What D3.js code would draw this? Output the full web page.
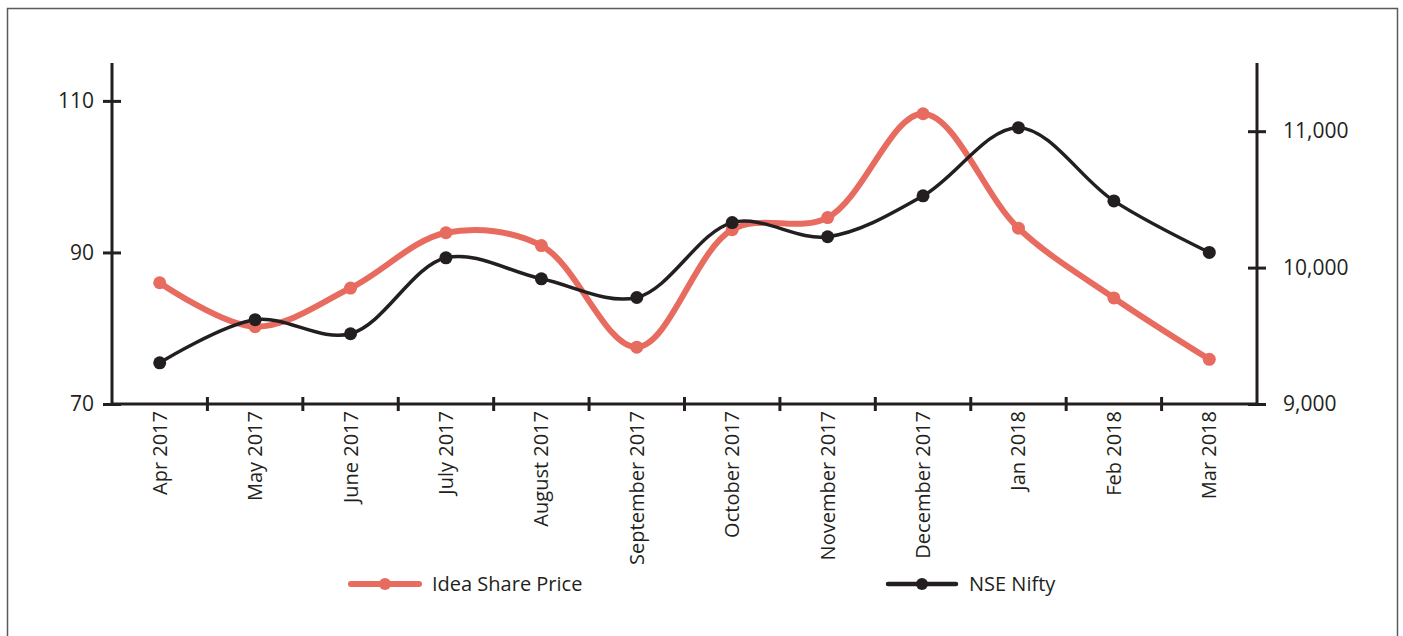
<!DOCTYPE html>
<html>
<head>
<meta charset="utf-8">
<script src="https://cdn.jsdelivr.net/npm/d3@7"></script>
<style>
  html, body { margin: 0; padding: 0; background: #fff; }
  svg { display: block; }
  text { font-family: "Open Sans", "Noto Sans", sans-serif; fill: #231f20; }
</style>
</head>
<body>
<svg id="chart" width="1403" height="636"></svg>
<script>
const categories = ["Apr 2017","May 2017","June 2017","July 2017","August 2017","September 2017","October 2017","November 2017","December 2017","Jan 2018","Feb 2018","Mar 2018"];
const ideaPrice = [86.0, 80.2, 85.3, 92.6, 90.9, 77.5, 93.0, 94.6, 108.3, 93.2, 84.0, 75.9];
const nifty = [9302, 9618, 9515, 10072, 9918, 9781, 10330, 10226, 10526, 11026, 10489, 10111];
const leftTicks = [70, 90, 110];
const rightTicks = [9000, 10000, 11000];
const seriesNames = ["Idea Share Price", "NSE Nifty"];

const ink = "#231f20";
const red = "#e86b60";
const svg = d3.select("#chart");

// outer frame
svg.append("rect").attr("x", 7.5).attr("y", 8.5).attr("width", 1390).attr("height", 640)
  .attr("fill", "none").attr("stroke", "#5a5a5a").attr("stroke-width", 1.5);

const x = d3.scaleBand().domain(categories).range([112, 1257]);
const yL = d3.scaleLinear().domain([70, 115]).range([404, 63]);
const yR = d3.scaleLinear().domain([9000, 11500]).range([404, 63]);
const cx = d => x(d) + x.bandwidth() / 2;

// left axis
const gL = svg.append("g").attr("transform", "translate(112,0)")
  .call(d3.axisLeft(yL).tickValues(leftTicks).tickSize(9).tickPadding(9).tickFormat(d3.format("d")));
gL.select(".domain").attr("stroke", ink).attr("stroke-width", 3).attr("d", `M0,${yL(115)}V${yL(70)}`);
gL.selectAll(".tick line").attr("stroke", ink).attr("stroke-width", 3).attr("x1", 9);
gL.selectAll(".tick text").attr("font-size", 21).style("fill", ink);

// right axis
const gR = svg.append("g").attr("transform", "translate(1257,0)")
  .call(d3.axisRight(yR).tickValues(rightTicks).tickSize(9).tickPadding(17).tickFormat(d3.format(",")));
gR.select(".domain").attr("stroke", ink).attr("stroke-width", 3).attr("d", `M0,${yR(11500)}V${yR(9000)}`);
gR.selectAll(".tick line").attr("stroke", ink).attr("stroke-width", 3).attr("x1", -9);
gR.selectAll(".tick text").attr("font-size", 21).style("fill", ink);

// x axis
const gX = svg.append("g").attr("transform", `translate(0,${yL(70)})`)
  .call(d3.axisBottom(x).tickSize(0).tickPadding(0));
gX.select(".domain").attr("stroke", ink).attr("stroke-width", 3).attr("d", `M${x.range()[0]},0H${x.range()[1]}`);
gX.selectAll(".tick text")
  .attr("font-size", 20).style("fill", ink)
  .attr("transform", "rotate(-90)")
  .attr("text-anchor", "end").attr("x", -7).attr("y", 0).attr("dy", "0.35em");
// boundary ticks
const bounds = d3.range(categories.length + 1).map(i => x.range()[0] + i * x.step());
gX.selectAll(".btick").data(bounds.slice(1, -1)).enter().append("line")
  .attr("x1", d => d).attr("x2", d => d).attr("y1", -7).attr("y2", 7)
  .attr("stroke", ink).attr("stroke-width", 3);

const curve = d3.curveCatmullRom.alpha(0.5);
const lineL = d3.line().x((d, i) => cx(categories[i])).y(d => yL(d)).curve(curve);
const lineR = d3.line().x((d, i) => cx(categories[i])).y(d => yR(d)).curve(curve);

svg.append("path").datum(ideaPrice).attr("d", lineL).attr("fill", "none")
  .attr("stroke", red).attr("stroke-width", 6).attr("stroke-linecap", "round");
svg.selectAll(".pI").data(ideaPrice).enter().append("circle")
  .attr("cx", (d, i) => cx(categories[i])).attr("cy", d => yL(d)).attr("r", 6.5).attr("fill", red);

svg.append("path").datum(nifty).attr("d", lineR).attr("fill", "none")
  .attr("stroke", ink).attr("stroke-width", 3.5).attr("stroke-linecap", "round");
svg.selectAll(".pN").data(nifty).enter().append("circle")
  .attr("cx", (d, i) => cx(categories[i])).attr("cy", d => yR(d)).attr("r", 6.5).attr("fill", ink);

// legend
const legend = [
  { name: seriesNames[0], color: red, w: 6, x0: 351 },
  { name: seriesNames[1], color: ink, w: 4.5, x0: 888 }
];
const lg = svg.selectAll(".lg").data(legend).enter().append("g")
  .attr("transform", d => `translate(${d.x0},584)`);
lg.append("line").attr("x1", 0).attr("x2", 68).attr("y1", 0).attr("y2", 0)
  .attr("stroke", d => d.color).attr("stroke-width", d => d.w).attr("stroke-linecap", "round");
lg.append("circle").attr("cx", 34).attr("cy", 0).attr("r", 6).attr("fill", d => d.color);
lg.append("text").attr("x", 81).attr("y", 0).attr("dy", "0.35em").attr("font-size", 20)
  .text(d => d.name);
</script>
</body>
</html>
